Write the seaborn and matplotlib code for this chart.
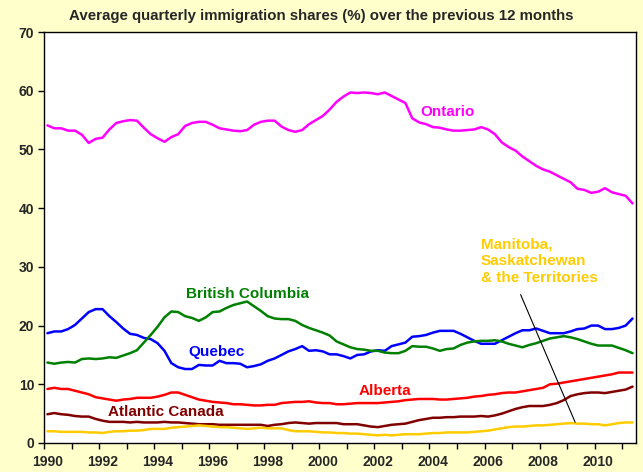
import numpy as np
import pandas as pd
import matplotlib.pyplot as plt
import seaborn as sns

# Quarterly shares (%), 1990Q1 .. 2011Q2
ontario = [54.1, 53.6, 53.6, 53.2, 53.2, 52.5, 51.1, 51.8, 52.0, 53.4,
           54.5, 54.8, 55.0, 54.9, 53.7, 52.6, 51.9, 51.3, 52.1, 52.6,
           54.0, 54.5, 54.7, 54.7, 54.2, 53.6, 53.4, 53.2, 53.1, 53.3,
           54.2, 54.7, 54.9, 54.9, 53.9, 53.3, 53.0, 53.3, 54.3, 55.0,
           55.7, 56.8, 58.1, 59.0, 59.7, 59.6, 59.7, 59.6, 59.4, 59.7,
           59.1, 58.5, 57.9, 55.3, 54.6, 54.3, 53.8, 53.7, 53.4, 53.2,
           53.2, 53.3, 53.4, 53.8, 53.4, 52.6, 51.2, 50.4, 49.8, 48.8,
           48.0, 47.2, 46.6, 46.2, 45.6, 45.0, 44.4, 43.3, 43.1, 42.6,
           42.8, 43.4, 42.7, 42.4, 42.1, 40.8]
quebec = [18.7, 19.0, 19.0, 19.4, 20.1, 21.2, 22.3, 22.8, 22.8, 21.6,
          20.6, 19.5, 18.6, 18.4, 17.9, 17.7, 17.0, 15.7, 13.6, 12.9,
          12.6, 12.6, 13.3, 13.2, 13.2, 14.0, 13.6, 13.6, 13.5, 12.9,
          13.1, 13.4, 14.0, 14.4, 15.0, 15.6, 16.0, 16.5, 15.7, 15.8,
          15.6, 15.1, 15.1, 14.8, 14.4, 15.0, 15.1, 15.6, 15.8, 15.7,
          16.5, 16.8, 17.1, 18.1, 18.2, 18.4, 18.8, 19.1, 19.1, 19.1,
          18.6, 18.0, 17.4, 16.9, 16.9, 16.9, 17.5, 18.1, 18.7, 19.2,
          19.2, 19.5, 19.1, 18.7, 18.7, 18.7, 19.0, 19.4, 19.5, 20.0,
          20.0, 19.4, 19.4, 19.6, 20.0, 21.2]
bc = [13.7, 13.5, 13.7, 13.8, 13.7, 14.3, 14.4, 14.3, 14.4, 14.6,
      14.5, 14.9, 15.3, 15.8, 17.1, 18.4, 19.8, 21.4, 22.4, 22.3,
      21.6, 21.3, 20.8, 21.4, 22.3, 22.4, 23.0, 23.5, 23.8, 24.1,
      23.3, 22.5, 21.6, 21.2, 21.1, 21.1, 20.8, 20.1, 19.6, 19.2,
      18.8, 18.3, 17.3, 16.8, 16.3, 16.0, 15.9, 15.7, 15.7, 15.4,
      15.3, 15.3, 15.7, 16.5, 16.4, 16.4, 16.1, 15.7, 16.0, 16.1,
      16.7, 17.1, 17.3, 17.4, 17.4, 17.5, 17.3, 16.9, 16.6, 16.3,
      16.7, 17.0, 17.4, 17.8, 18.0, 18.2, 18.0, 17.7, 17.3, 16.9,
      16.6, 16.6, 16.6, 16.2, 15.8, 15.3]
alberta = [9.2, 9.4, 9.2, 9.2, 8.9, 8.6, 8.3, 7.8, 7.6, 7.4,
           7.2, 7.4, 7.5, 7.7, 7.7, 7.7, 7.9, 8.2, 8.6, 8.6,
           8.2, 7.8, 7.4, 7.2, 7.0, 6.9, 6.8, 6.6, 6.6, 6.5,
           6.4, 6.4, 6.5, 6.5, 6.8, 6.9, 7.0, 7.0, 7.1, 6.9,
           6.8, 6.8, 6.6, 6.6, 6.7, 6.8, 6.8, 6.8, 6.8, 6.9,
           7.0, 7.1, 7.3, 7.4, 7.5, 7.5, 7.5, 7.4, 7.4, 7.5,
           7.6, 7.7, 7.9, 8.0, 8.2, 8.3, 8.5, 8.6, 8.6, 8.8,
           9.0, 9.2, 9.4, 10.0, 10.1, 10.3, 10.5, 10.7, 10.9, 11.1,
           11.3, 11.5, 11.7, 12.0, 12.0, 12.0]
atlantic = [4.9, 5.1, 4.9, 4.8, 4.6, 4.5, 4.5, 4.1, 3.8, 3.6,
            3.6, 3.6, 3.5, 3.6, 3.5, 3.5, 3.5, 3.6, 3.5, 3.5,
            3.4, 3.3, 3.2, 3.2, 3.2, 3.1, 3.1, 3.1, 3.1, 3.1,
            3.1, 3.1, 2.9, 3.1, 3.2, 3.4, 3.5, 3.4, 3.3, 3.4,
            3.4, 3.4, 3.4, 3.2, 3.2, 3.2, 3.0, 2.8, 2.7, 2.9,
            3.1, 3.2, 3.3, 3.6, 3.9, 4.1, 4.3, 4.3, 4.4, 4.4,
            4.5, 4.5, 4.5, 4.6, 4.5, 4.7, 5.0, 5.4, 5.8, 6.1,
            6.3, 6.3, 6.3, 6.5, 6.8, 7.3, 8.0, 8.3, 8.5, 8.6,
            8.6, 8.5, 8.7, 8.9, 9.1, 9.6]
prairies = [2.0, 2.0, 1.9, 1.9, 1.9, 1.9, 1.8, 1.8, 1.7, 1.9,
            2.0, 2.0, 2.1, 2.1, 2.2, 2.4, 2.4, 2.4, 2.6, 2.7,
            2.8, 2.9, 3.0, 2.9, 2.8, 2.7, 2.7, 2.6, 2.5, 2.4,
            2.5, 2.6, 2.5, 2.5, 2.5, 2.2, 2.0, 2.0, 2.0, 1.9,
            1.8, 1.8, 1.7, 1.7, 1.6, 1.6, 1.5, 1.4, 1.3, 1.4,
            1.3, 1.4, 1.5, 1.5, 1.5, 1.6, 1.7, 1.7, 1.8, 1.8,
            1.8, 1.8, 1.9, 2.0, 2.1, 2.3, 2.5, 2.7, 2.8, 2.8,
            2.9, 3.0, 3.0, 3.1, 3.2, 3.3, 3.4, 3.3, 3.3, 3.2,
            3.2, 3.0, 3.2, 3.4, 3.5, 3.5]

series = {
    'Ontario': (ontario, '#FF00FF'),
    'Quebec': (quebec, '#0000FF'),
    'British Columbia': (bc, '#008000'),
    'Alberta': (alberta, '#FF0000'),
    'Atlantic Canada': (atlantic, '#800000'),
    'Manitoba, Saskatchewan & the Territories': (prairies, '#FFCC00'),
}

# quarter centres on a year scale
quarters = 1990 + (np.arange(len(ontario)) + 0.5) / 4

rows = []
for name, (vals, col) in series.items():
    for x, v in zip(quarters, vals):
        rows.append((name, x, v))
df = pd.DataFrame(rows, columns=['region', 'year', 'share'])
palette = {name: col for name, (vals, col) in series.items()}

sns.set_style('white')
plt.rcParams['font.family'] = ['Liberation Sans', 'DejaVu Sans']
plt.rcParams['font.weight'] = 'bold'

fig = plt.figure(figsize=(6.43, 4.72), dpi=100, facecolor='#FFFFCC')
ax = fig.add_axes([44 / 643, 29 / 472, 592 / 643, 411 / 472])
ax.set_facecolor('white')

sns.lineplot(data=df, x='year', y='share', hue='region', palette=palette,
             linewidth=1.8, legend=False, ax=ax)

ax.set_xlim(1990, 2011.5)
ax.set_ylim(0, 70)
ax.set_xlabel('')
ax.set_ylabel('')

# year tick marks, labels on every second year's first quarter
ax.set_xticks(np.arange(1990, 2012))
ax.set_xticklabels([])
ax.set_xticks(np.arange(1990, 2011, 2) + 0.125, minor=True)
ax.set_xticklabels([str(y) for y in range(1990, 2011, 2)], minor=True,
                   fontsize=10, fontweight='bold')
ax.tick_params(axis='x', which='major', direction='out', length=4, width=1,
               color='black', bottom=True)
ax.tick_params(axis='x', which='minor', length=0, pad=9)
ax.set_yticks(range(0, 71, 10))
ax.set_yticklabels([str(v) for v in range(0, 71, 10)], fontsize=10,
                   fontweight='bold')
ax.tick_params(axis='y', direction='out', length=4, width=1, color='black',
               left=True, pad=3)
for s in ax.spines.values():
    s.set_color('black')
    s.set_linewidth(1)

fig.text(0.5, 1 - 16 / 472, 'Average quarterly immigration shares (%) over the previous 12 months',
         ha='center', va='center', fontsize=10.8, fontweight='bold')

lab = dict(fontsize=11, fontweight='bold', va='center')
ax.text(2004.64, 56.3, 'Ontario', color='#FF00FF', ha='center', **lab)
ax.text(1997.38, 25.4, 'British Columbia', color='#008000', ha='center', **lab)
ax.text(1996.26, 15.55, 'Quebec', color='#0000FF', ha='center', **lab)
ax.text(2002.37, 8.9, 'Alberta', color='#FF0000', ha='center', **lab)
ax.text(1994.42, 5.2, 'Atlantic Canada', color='#800000', ha='center', **lab)
ax.text(2005.86, 31.0, 'Manitoba,\nSaskatchewan\n& the Territories',
        color='#FFCC00', ha='left', linespacing=1.25, **lab)
ax.annotate('', xy=(2009.33, 3.1), xytext=(2007.27, 25.7),
            arrowprops=dict(arrowstyle='-', color='black', lw=0.8))

fig.savefig('out.png', dpi=100, facecolor=fig.get_facecolor())
